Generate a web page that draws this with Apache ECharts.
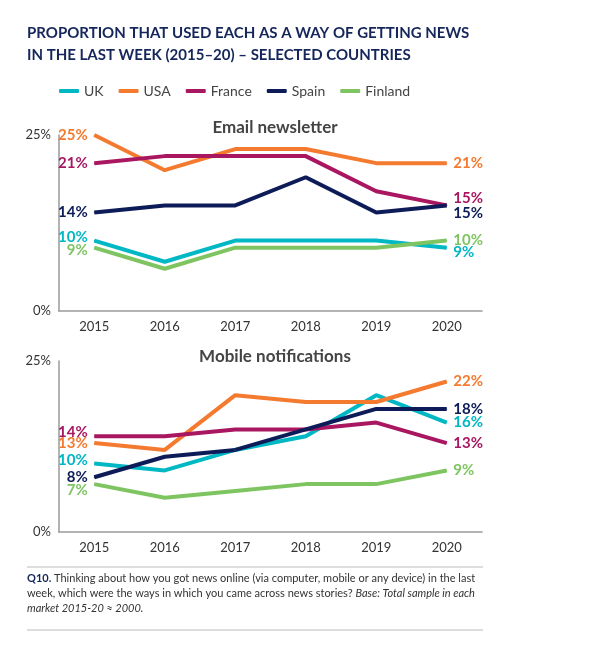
<!DOCTYPE html>
<html style="height: 100%">
<head>
    <meta charset="UTF-8">
    <title>Email newsletter and mobile notifications</title>
    <script src="https://cdn.jsdelivr.net/npm/echarts/dist/echarts.min.js"></script>
    <style>
        #main {
            width: 596px;
            height: 668px;
        }
    </style>
</head>
<body style="height: 100%; margin: 0; background: #fff">
    <div id="main"></div>
    <script type="text/javascript">
        var years = ['2015', '2016', '2017', '2018', '2019', '2020'];
        var countries = ['UK', 'USA', 'France', 'Spain', 'Finland'];
        var colors = ['#00b7c4', '#f47a30', '#a8175f', '#0d1c58', '#7ec562'];
        var yTicks = [0, 25];

        // Email newsletter (%)
        var emailUK = [10, 7, 10, 10, 10, 9];
        var emailUSA = [25, 20, 23, 23, 21, 21];
        var emailFrance = [21, 22, 22, 22, 17, 15];
        var emailSpain = [14, 15, 15, 19, 14, 15];
        var emailFinland = [9, 6, 9, 9, 9, 10];

        // Mobile notifications (%)
        var mobileUK = [10, 9, 12, 14, 20, 16];
        var mobileUSA = [13, 12, 20, 19, 19, 22];
        var mobileFrance = [14, 14, 15, 15, 16, 13];
        var mobileSpain = [8, 11, 12, 15, 18, 18];
        var mobileFinland = [7, 5, 6, 7, 7, 9];

        var emailData = [emailUK, emailUSA, emailFrance, emailSpain, emailFinland];
        var mobileData = [mobileUK, mobileUSA, mobileFrance, mobileSpain, mobileFinland];

        // vertical nudges for start/end labels so they don't collide
        var emailNudge = [[-3, 5], [0, 0], [0, -7], [0, 8], [3, 0]];
        var mobileNudge = [[-3, 0], [0, 0], [-4, 0], [0, 0], [6, 0]];

        var font = 'Lato, "Noto Sans", sans-serif';

        var chartDom = document.getElementById('main');
        var myChart = echarts.init(chartDom);
        var option;

        function makeSeries(i, values, gridIdx, nudge) {
            var last = values.length - 1;
            return {
                name: countries[i],
                type: 'line',
                xAxisIndex: gridIdx,
                yAxisIndex: gridIdx,
                // tiny symbols so the start/end labels get drawn
                symbol: 'circle',
                symbolSize: 1,
                showAllSymbol: true,
                lineStyle: { width: 4, color: colors[i] },
                itemStyle: { color: colors[i] },
                label: {
                    show: false,
                    formatter: '{c}%',
                    color: colors[i],
                    fontFamily: font,
                    fontWeight: 'bold',
                    fontSize: 15,
                    distance: 6
                },
                data: values.map(function (v, k) {
                    if (k === 0) {
                        return { value: v, label: { show: true, position: 'left', offset: [0, nudge[0]] } };
                    }
                    if (k === last) {
                        return { value: v, label: { show: true, position: 'right', offset: [0, nudge[1]] } };
                    }
                    return v;
                })
            };
        }

        function xAxis(gridIdx) {
            return {
                type: 'category',
                gridIndex: gridIdx,
                data: years,
                boundaryGap: true,
                axisTick: { show: false },
                axisLine: { lineStyle: { color: '#9a9a9a', width: 1.5 } },
                axisLabel: { color: '#333', fontFamily: font, fontSize: 13, margin: 9 }
            };
        }

        function yAxis(gridIdx) {
            return {
                type: 'value',
                gridIndex: gridIdx,
                min: yTicks[0],
                max: yTicks[1],
                interval: yTicks[1] - yTicks[0],
                splitLine: { show: false },
                axisTick: { show: false },
                axisLine: { show: true, lineStyle: { color: '#9a9a9a', width: 1.5 } },
                axisLabel: { color: '#333', fontFamily: font, fontSize: 13, formatter: '{value}%', margin: 8 }
            };
        }

        var series = [];
        emailData.forEach(function (vals, i) { series.push(makeSeries(i, vals, 0, emailNudge[i])); });
        mobileData.forEach(function (vals, i) { series.push(makeSeries(i, vals, 1, mobileNudge[i])); });

        option = {
            animation: false,
            color: colors,
            title: [{
                text: 'PROPORTION THAT USED EACH AS A WAY OF GETTING NEWS\nIN THE LAST WEEK (2015–20) – SELECTED COUNTRIES',
                left: 27,
                top: 22,
                padding: 0,
                textStyle: { fontFamily: font, fontSize: 15, fontWeight: 'bold', color: '#15265b', lineHeight: 22 }
            }, {
                text: 'Email newsletter',
                left: 270,
                textAlign: 'center',
                top: 114,
                textStyle: { fontFamily: font, fontSize: 17, fontWeight: 'bold', color: '#444' }
            }, {
                text: 'Mobile notifications',
                left: 270,
                textAlign: 'center',
                top: 343,
                textStyle: { fontFamily: font, fontSize: 17, fontWeight: 'bold', color: '#444' }
            }],
            legend: {
                data: countries,
                left: 54,
                top: 79,
                itemWidth: 20,
                itemHeight: 4,
                itemGap: 15,
                icon: 'roundRect',
                textStyle: { fontFamily: font, fontSize: 14, color: '#444' }
            },
            grid: [
                { left: 59, width: 423, top: 135, height: 176 },
                { left: 59, width: 423, top: 361, height: 171 }
            ],
            xAxis: [xAxis(0), xAxis(1)],
            yAxis: [yAxis(0), yAxis(1)],
            series: series,
            graphic: [{
                type: 'line',
                shape: { x1: 27, y1: 567, x2: 483, y2: 567 },
                style: { stroke: '#bbb', lineWidth: 1 }
            }, {
                type: 'line',
                shape: { x1: 27, y1: 630, x2: 483, y2: 630 },
                style: { stroke: '#bbb', lineWidth: 1 }
            }, {
                type: 'text',
                left: 27,
                top: 571,
                style: {
                    text: '{b|Q10.} Thinking about how you got news online (via computer, mobile or any device) in the last\n' +
                        'week, which were the ways in which you came across news stories? {i|Base: Total sample in each}\n' +
                        '{i|market 2015-20 ≈ 2000.}',
                    fontFamily: font,
                    fontSize: 11,
                    lineHeight: 15,
                    fill: '#333',
                    rich: {
                        b: { fontWeight: 'bold', fontFamily: font, fontSize: 11, fill: '#15265b', lineHeight: 15 },
                        i: { fontStyle: 'italic', fontFamily: font, fontSize: 11, fill: '#333', lineHeight: 15 }
                    }
                }
            }]
        };

        myChart.setOption(option);
    </script>
</body>
</html>
